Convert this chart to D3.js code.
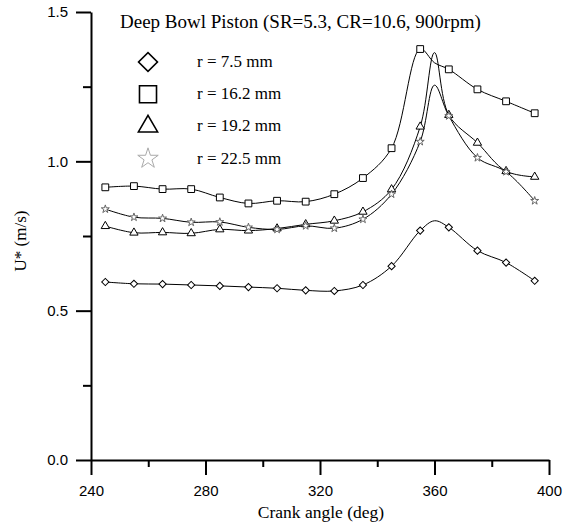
<!DOCTYPE html>
<html>
<head>
<meta charset="utf-8">
<script src="https://cdn.jsdelivr.net/npm/d3@7"></script>
<style>
  body { margin: 0; background: #fff; }
  .serif { font-family: "Liberation Serif", "Times New Roman", serif; fill: #000; }
</style>
</head>
<body>
<div id="chart"></div>
<script>
// crank angles (deg); 360 carries no marker, only shapes the curve
const angles = [245, 255, 265, 275, 285, 295, 305, 315, 325, 335, 345, 355, 360, 365, 375, 385, 395];

// U* (m/s) for each radius
const r75 = [0.596, 0.590, 0.589, 0.586, 0.583, 0.579, 0.575, 0.568, 0.566, 0.586, 0.649, 0.768, 0.801, 0.779, 0.701, 0.661, 0.600];
const r162 = [0.913, 0.917, 0.907, 0.907, 0.879, 0.859, 0.868, 0.865, 0.890, 0.944, 1.044, 1.376, 1.330, 1.308, 1.241, 1.201, 1.161];
const r192 = [0.783, 0.761, 0.762, 0.759, 0.772, 0.768, 0.775, 0.789, 0.801, 0.831, 0.906, 1.116, 1.364, 1.155, 1.062, 0.967, 0.948];
const r225 = [0.840, 0.813, 0.809, 0.796, 0.797, 0.779, 0.772, 0.784, 0.776, 0.806, 0.890, 1.066, 1.255, 1.152, 1.012, 0.965, 0.868];

const seriesNames = ['r = 7.5 mm', 'r = 16.2 mm', 'r = 19.2 mm', 'r = 22.5 mm'];
const xTicks = [240, 280, 320, 360, 400];
const xMinor = [260, 300, 340, 380];
const yTicks = [0.0, 0.5, 1.0, 1.5];
const yMinor = [0.25, 0.75, 1.25];

const width = 574, height = 530;
const svg = d3.select('#chart').append('svg')
  .attr('width', width)
  .attr('height', height);

const x = d3.scaleLinear().domain([240, 400]).range([91, 549]);
const y = d3.scaleLinear().domain([0, 1.5]).range([460, 12]);

// axis titles
svg.append('text')
  .attr('class', 'serif')
  .attr('x', 321).attr('y', 518)
  .attr('text-anchor', 'middle')
  .style('font-size', '17.5px')
  .text('Crank angle (deg)');
svg.append('text')
  .attr('class', 'serif')
  .attr('transform', 'translate(26,241) rotate(-90)')
  .attr('text-anchor', 'middle')
  .style('font-size', '17px')
  .text('U* (m/s)');

// title
svg.append('text')
  .attr('class', 'serif')
  .attr('x', 120).attr('y', 28)
  .style('font-size', '19px')
  .text('Deep Bowl Piston (SR=5.3, CR=10.6, 900rpm)');

// series and marker shapes
const series = [
  { name: seriesNames[0], values: r75, shape: 'diamond', stroke: '#000' },
  { name: seriesNames[1], values: r162, shape: 'square', stroke: '#000' },
  { name: seriesNames[2], values: r192, shape: 'triangle', stroke: '#000' },
  { name: seriesNames[3], values: r225, shape: 'star', stroke: '#666' }
];

function symbolPath(shape, s) {
  if (shape === 'diamond') return d3.symbol(d3.symbolSquare, s)();
  if (shape === 'square') return d3.symbol(d3.symbolSquare, s)();
  if (shape === 'triangle') return d3.symbol(d3.symbolTriangle, s)();
  return d3.symbol(d3.symbolStar, s)();
}
const smallSize = { diamond: 26, square: 46, triangle: 30, star: 20 };
const bigSize = { diamond: 180, square: 290, triangle: 160, star: 130 };

const line = d3.line()
  .x((d, i) => x(angles[i]))
  .y(d => y(d))
  .curve(d3.curveCatmullRom.alpha(0.5));

series.forEach(s => {
  svg.append('path')
    .datum(s.values)
    .attr('fill', 'none')
    .attr('stroke', '#000')
    .attr('stroke-width', 1)
    .attr('d', line);
});

series.forEach(s => {
  const pts = s.values.map((v, i) => ({ a: angles[i], v: v })).filter(d => d.a % 10 === 5);
  svg.append('g')
    .selectAll('path')
    .data(pts)
    .enter()
    .append('path')
    .attr('d', symbolPath(s.shape, smallSize[s.shape]))
    .attr('transform', d => `translate(${x(d.a)},${y(d.v)})` + (s.shape === 'diamond' ? ' rotate(45)' : ''))
    .attr('fill', '#fff')
    .attr('stroke', s.stroke)
    .attr('stroke-width', 1);
});

// legend
const legend = svg.append('g');
series.forEach((s, i) => {
  const cy = 62 + i * 32.2;
  legend.append('path')
    .attr('d', symbolPath(s.shape, bigSize[s.shape]))
    .attr('transform', `translate(148,${cy})` + (s.shape === 'diamond' ? ' rotate(45)' : ''))
    .attr('fill', 'none')
    .attr('stroke', s.shape === 'star' ? '#aaa' : '#000')
    .attr('stroke-width', s.shape === 'star' ? 1 : 1.6);
  legend.append('text')
    .attr('class', 'serif')
    .attr('x', 197).attr('y', cy + 5)
    .style('font-size', '17px')
    .text(s.name);
});

// axes drawn last, one per side; minor ticks get shorter lines and no label
const xAll = xTicks.concat(xMinor).sort((a, b) => a - b);
const yAll = yTicks.concat(yMinor).sort((a, b) => a - b);

const xAxis = svg.append('g')
  .attr('transform', 'translate(0,460)')
  .call(d3.axisBottom(x).tickValues(xAll).tickSize(15).tickSizeOuter(0).tickPadding(10)
    .tickFormat(d => xTicks.includes(d) ? d3.format('d')(d) : ''));
xAxis.selectAll('.tick').filter(d => xMinor.includes(d)).select('line').attr('y2', 7);

const yAxis = svg.append('g')
  .attr('transform', 'translate(91,0)')
  .call(d3.axisLeft(y).tickValues(yAll).tickSize(15).tickSizeOuter(0).tickPadding(8)
    .tickFormat(d => yTicks.includes(d) ? d3.format('.1f')(d) : ''));
yAxis.selectAll('.tick').filter(d => yMinor.includes(d)).select('line').attr('x2', -8);

[xAxis, yAxis].forEach(g => {
  g.selectAll('line').attr('stroke', '#000').attr('stroke-width', 2);
  g.select('.domain').attr('stroke', '#000').attr('stroke-width', 2);
  g.selectAll('text')
    .attr('fill', '#000')
    .style('font-family', '"Liberation Sans", Arial, sans-serif')
    .style('font-size', '15px');
});
</script>
</body>
</html>
